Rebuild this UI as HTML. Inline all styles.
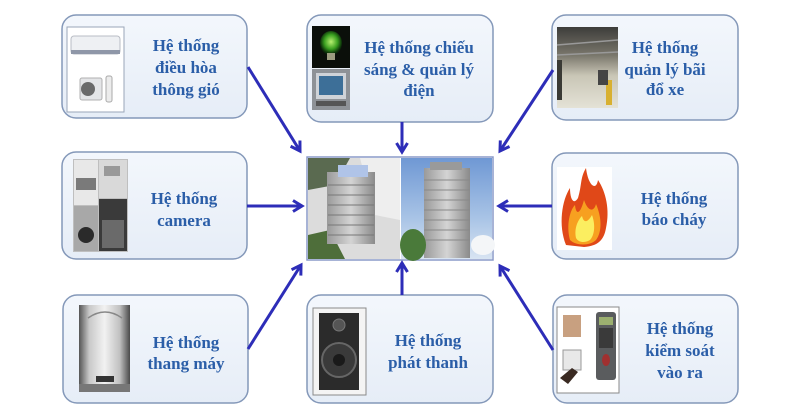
<!DOCTYPE html>
<html><head><meta charset="utf-8"><style>
html,body{margin:0;padding:0;background:#fff;}
svg{display:block;}
text{font-family:"Liberation Serif",serif;font-weight:bold;font-size:17px;fill:#2b5ea8;text-anchor:middle;}
</style></head><body>
<svg width="800" height="420" viewBox="0 0 800 420" xmlns="http://www.w3.org/2000/svg">
<defs>
<linearGradient id="bx" x1="0" y1="0" x2="0" y2="1"><stop offset="0" stop-color="#f3f7fc"/><stop offset="1" stop-color="#e6edf7"/></linearGradient>
<linearGradient id="sky" x1="0" y1="0" x2="0" y2="1"><stop offset="0" stop-color="#6f98d4"/><stop offset="0.6" stop-color="#a9c4e6"/><stop offset="1" stop-color="#d8e4f2"/></linearGradient>
<linearGradient id="park" x1="0" y1="0" x2="0" y2="1"><stop offset="0" stop-color="#3d3d3a"/><stop offset="0.35" stop-color="#7a776c"/><stop offset="0.6" stop-color="#c9c6b6"/><stop offset="1" stop-color="#e4e2d6"/></linearGradient>
<linearGradient id="elev" x1="0" y1="0" x2="1" y2="0"><stop offset="0" stop-color="#555"/><stop offset="0.2" stop-color="#c8c8c8"/><stop offset="0.5" stop-color="#f2f2f2"/><stop offset="0.8" stop-color="#c0c0c0"/><stop offset="1" stop-color="#4a4a4a"/></linearGradient>
<linearGradient id="bld" x1="0" y1="0" x2="1" y2="0"><stop offset="0" stop-color="#9a9a9a"/><stop offset="0.5" stop-color="#d4d4d4"/><stop offset="1" stop-color="#8a8a8a"/></linearGradient>
<radialGradient id="bulb" cx="0.5" cy="0.45" r="0.5"><stop offset="0" stop-color="#b8f070"/><stop offset="0.6" stop-color="#3aa020"/><stop offset="1" stop-color="#0a2a08"/></radialGradient>
<marker id="ah" markerWidth="14" markerHeight="14" refX="11" refY="7" orient="auto" markerUnits="userSpaceOnUse">
<path d="M2,1.5 L11,7 L2,12.5" fill="none" stroke="#2d2db8" stroke-width="3" stroke-linejoin="miter"/>
</marker>
</defs>

<!-- boxes -->
<g stroke="#8498b9" stroke-width="1.5" fill="url(#bx)">
<rect x="62" y="15" width="185" height="103" rx="14"/>
<rect x="307" y="15" width="186" height="107" rx="14"/>
<rect x="552" y="15" width="186" height="105" rx="14"/>
<rect x="62" y="152" width="185" height="107" rx="14"/>
<rect x="552" y="153" width="186" height="106" rx="14"/>
<rect x="63" y="295" width="185" height="108" rx="14"/>
<rect x="307" y="295" width="186" height="108" rx="14"/>
<rect x="553" y="295" width="185" height="108" rx="14"/>
</g>

<!-- TL image: air conditioner -->
<rect x="67" y="27" width="57" height="85" fill="#fff" stroke="#9aa6b8" stroke-width="1"/>
<rect x="71" y="36" width="49" height="18" rx="3" fill="#eef0f3" stroke="#b8bcc4"/>
<rect x="71" y="50" width="49" height="4" fill="#8f97a8"/>
<rect x="80" y="78" width="22" height="22" rx="2" fill="#e4e5e7" stroke="#b0b0b0"/>
<circle cx="88" cy="89" r="7" fill="#6a6a6a"/>
<rect x="106" y="76" width="6" height="26" rx="2" fill="#ececec" stroke="#aaa"/>

<!-- TC image: bulb + meter -->
<rect x="312" y="26" width="38" height="42" fill="#0b0f0a"/>
<ellipse cx="331" cy="43" rx="11" ry="12" fill="url(#bulb)"/>
<rect x="327" y="53" width="8" height="7" fill="#9c9c80"/>
<rect x="312" y="69" width="38" height="41" fill="#8e9297"/>
<rect x="316" y="73" width="30" height="26" fill="#cfd3d8"/>
<rect x="319" y="76" width="24" height="19" fill="#3d6f98"/>
<rect x="316" y="101" width="30" height="5" fill="#555"/>

<!-- TR image: parking -->
<rect x="557" y="27" width="61" height="81" fill="url(#park)"/>
<path d="M557,45 L618,40 M557,55 L618,52" stroke="#999" stroke-width="1.5"/>
<rect x="606" y="80" width="6" height="25" fill="#d8b030"/>
<rect x="598" y="70" width="10" height="15" fill="#444"/>
<rect x="557" y="60" width="5" height="40" fill="#3a3a35"/>

<!-- ML image: camera collage -->
<rect x="73" y="159" width="55" height="93" fill="#bfbfbf"/>
<rect x="74" y="160" width="24" height="45" fill="#e8e8e8"/>
<rect x="76" y="178" width="20" height="12" fill="#7a7a7a"/>
<rect x="99" y="160" width="28" height="38" fill="#d9d9d9"/>
<rect x="104" y="166" width="16" height="10" fill="#999"/>
<rect x="99" y="199" width="28" height="52" fill="#3a3a3a"/>
<rect x="102" y="220" width="22" height="28" fill="#6a6a6a"/>
<rect x="74" y="206" width="24" height="45" fill="#a8a8a8"/>
<circle cx="86" cy="235" r="8" fill="#2a2a2a"/>

<!-- MR image: flame -->
<rect x="557" y="167" width="55" height="83" fill="#fff"/>
<path d="M566,245 C558,225 562,200 570,188 C570,200 574,205 578,198 C582,185 580,178 586,168 C588,185 596,192 598,180 C606,192 610,210 606,228 C604,240 598,246 584,247 Z" fill="#e04818"/>
<path d="M570,240 C566,225 570,210 575,205 C576,215 580,215 584,200 C588,212 594,212 596,204 C602,218 602,232 596,240 C590,246 576,246 570,240 Z" fill="#f7a020"/>
<path d="M576,238 C574,228 578,220 582,216 C584,224 588,222 592,215 C596,226 594,236 590,240 C585,243 579,243 576,238 Z" fill="#fbee60"/>

<!-- BL image: elevator -->
<rect x="79" y="305" width="51" height="87" fill="url(#elev)"/>
<path d="M88,318 Q105,306 122,318" fill="none" stroke="#888" stroke-width="1.5"/>
<rect x="96" y="376" width="18" height="6" fill="#333"/>
<rect x="79" y="384" width="51" height="8" fill="#777"/>

<!-- BC image: speaker -->
<rect x="313" y="308" width="53" height="87" fill="#f4f4f4" stroke="#8a8a8a"/>
<rect x="319" y="313" width="40" height="77" fill="#2b2b2b"/>
<circle cx="339" cy="325" r="6" fill="#555" stroke="#777"/>
<circle cx="339" cy="360" r="17" fill="#3a3a3a" stroke="#666" stroke-width="2"/>
<circle cx="339" cy="360" r="6" fill="#1a1a1a"/>

<!-- BR image: access control -->
<rect x="557" y="307" width="62" height="86" fill="#fff" stroke="#8a8a8a"/>
<rect x="563" y="315" width="18" height="22" fill="#c8a080"/>
<rect x="563" y="350" width="18" height="20" fill="#e8e8e8" stroke="#999"/>
<path d="M560,378 L572,368 L578,372 L568,384 Z" fill="#3a2a22"/>
<rect x="596" y="312" width="20" height="68" rx="3" fill="#5a5c5e"/>
<rect x="599" y="317" width="14" height="8" fill="#9cb070"/>
<rect x="599" y="328" width="14" height="20" fill="#3a3a3a"/>
<ellipse cx="606" cy="360" rx="4" ry="6" fill="#a03030"/>

<!-- center image -->
<rect x="307" y="157" width="186" height="103" fill="#fff" stroke="#8a9ac8" stroke-width="1.5"/>
<rect x="308" y="158" width="92" height="101" fill="#dcdcdc"/>
<path d="M308,158 L350,158 L335,185 L308,190 Z" fill="#5a6a50"/>
<path d="M360,158 L400,158 L400,220 L375,215 Z" fill="#eeeeee"/>
<path d="M308,235 L330,230 L345,259 L308,259 Z" fill="#4e6e3a"/>
<rect x="327" y="172" width="48" height="72" fill="url(#bld)"/>
<rect x="338" y="165" width="30" height="12" fill="#b0c4e8"/>
<g stroke="#777" stroke-width="1"><path d="M328,185 H374 M328,195 H374 M328,205 H374 M328,215 H374 M328,225 H374 M328,235 H374"/></g>
<rect x="401" y="158" width="91" height="101" fill="url(#sky)"/>
<rect x="424" y="168" width="46" height="90" fill="url(#bld)"/>
<rect x="430" y="162" width="32" height="8" fill="#9a9a9a"/>
<g stroke="#888" stroke-width="1"><path d="M424,180 H470 M424,190 H470 M424,200 H470 M424,210 H470 M424,220 H470 M424,230 H470 M424,240 H470"/></g>
<ellipse cx="413" cy="245" rx="13" ry="16" fill="#4a7a3a"/>
<ellipse cx="483" cy="245" rx="12" ry="10" fill="#f4f6f8"/>

<!-- arrows -->
<g stroke="#2d2db8" stroke-width="3" fill="none" marker-end="url(#ah)">
<line x1="248" y1="67" x2="300" y2="151"/>
<line x1="402" y1="122" x2="402" y2="152"/>
<line x1="553" y1="70" x2="500" y2="151"/>
<line x1="247" y1="206" x2="302" y2="206"/>
<line x1="552" y1="206" x2="499" y2="206"/>
<line x1="248" y1="349" x2="301" y2="265"/>
<line x1="402" y1="295" x2="402" y2="263"/>
<line x1="553" y1="350" x2="500" y2="266"/>
</g>

<!-- labels -->
<text x="186" y="51">Hệ thống</text>
<text x="186" y="73">điều hòa</text>
<text x="186" y="95">thông gió</text>

<text x="419" y="53">Hệ thống chiếu</text>
<text x="419" y="75">sáng &amp; quản lý</text>
<text x="419" y="96">điện</text>

<text x="665" y="53">Hệ thống</text>
<text x="665" y="75">quản lý bãi</text>
<text x="665" y="95">đổ xe</text>

<text x="184" y="204">Hệ thống</text>
<text x="184" y="226">camera</text>

<text x="674" y="204">Hệ thống</text>
<text x="674" y="225">báo cháy</text>

<text x="186" y="348">Hệ thống</text>
<text x="186" y="369">thang máy</text>

<text x="428" y="346">Hệ thống</text>
<text x="428" y="368">phát thanh</text>

<text x="680" y="334">Hệ thống</text>
<text x="680" y="356">kiểm soát</text>
<text x="680" y="378">vào ra</text>
</svg>
</body></html>
